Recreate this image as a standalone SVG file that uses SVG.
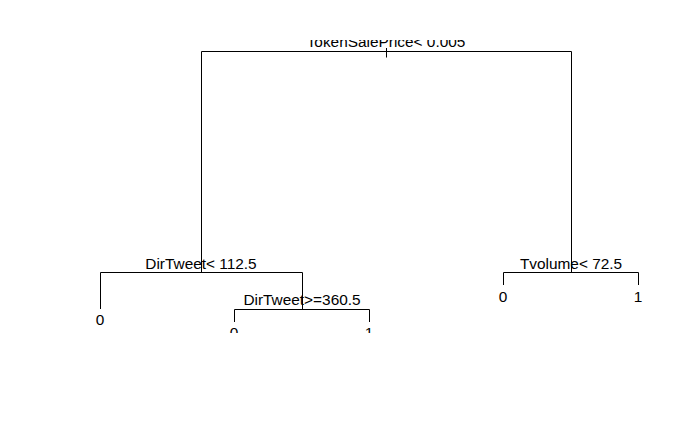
<svg xmlns="http://www.w3.org/2000/svg" width="700" height="432" viewBox="0 0 700 432">
<defs>
<clipPath id="plotclip"><rect x="0" y="40" width="700" height="293"/></clipPath>
<style>
.e{stroke:#000;stroke-width:1;fill:none}
.t{font-family:"Liberation Sans",Arial,sans-serif;font-size:15.4px;fill:#000;text-anchor:middle}
</style>
</defs>
<rect width="700" height="432" fill="#fff"/>
<g clip-path="url(#plotclip)">
<g id="connectors">
<path class="e" d="M386.5,48V57.5"/>
<path class="e" d="M201.5,272.5V51.5H571.5V272.5"/>
<path class="e" d="M100.5,309V272.5H302.5V309.5"/>
<path class="e" d="M234.5,322V309.5H369.5V322"/>
<path class="e" d="M503.5,285V272.5H638.5V285"/>
</g>
<g id="n1"><text class="t" x="386" y="47">TokenSalePrice&lt; 0.005</text></g>
<g id="n2"><text class="t" x="201" y="268.5">DirTweet&lt; 112.5</text></g>
<g id="n3"><text class="t" x="571" y="268.5">Tvolume&lt; 72.5</text></g>
<g id="n4"><text class="t" x="302" y="305">DirTweet&gt;=360.5</text></g>
<g id="leaf1"><text class="t" x="100" y="324.5">0</text></g>
<g id="leaf2"><text class="t" x="234" y="338">0</text></g>
<g id="leaf3"><text class="t" x="369" y="338">1</text></g>
<g id="leaf4"><text class="t" x="503" y="302">0</text></g>
<g id="leaf5"><text class="t" x="638" y="302">1</text></g>
</g>
</svg>
